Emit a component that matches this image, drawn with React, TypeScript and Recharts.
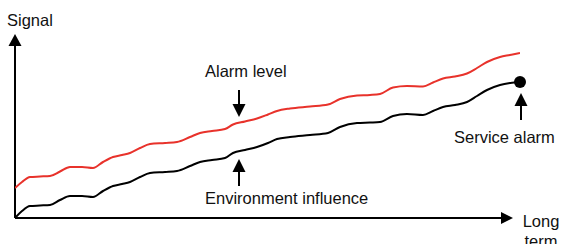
import React from "react";
import { LineChart, Line, XAxis, YAxis, ReferenceLine, ReferenceDot } from "recharts";

const xs = [0, 7, 15, 25, 35, 45, 55, 67, 78, 88, 98, 107, 115, 125, 135, 150, 162, 175, 185, 197, 210, 218, 230, 242, 253, 262, 275, 295, 313, 325, 342, 355, 365, 378, 392, 408, 418, 428, 440, 452, 462, 472, 485, 495, 505];
const environmentValues = [0, 7, 12, 12.5, 13, 18, 22, 22, 21, 27, 32, 34, 36, 41, 45, 46, 47, 52, 56, 58, 60, 65, 68, 71, 75, 79, 81, 83, 85, 91, 95, 95.5, 96, 102, 104, 103, 107, 111, 113, 116, 122, 128, 133, 135, 136];
const alarmValues = [30, 36, 41, 41.5, 42, 46.5, 51, 51, 50, 56, 61, 63, 65, 70, 74, 75, 76, 81, 85, 87, 89, 93.5, 96.5, 99.5, 103.5, 107, 109.5, 111.5, 113.5, 119, 122.5, 123, 124, 130.5, 132, 131.5, 135.5, 139.5, 141.5, 144.5, 150, 156, 161, 163, 165];

const labels = {
  y: "Signal",
  x1: "Long",
  x2: "term",
  alarm: "Alarm level",
  env: "Environment influence",
  service: "Service alarm",
};

const data = xs.map((x, i) => ({ x, env: environmentValues[i], alarm: alarmValues[i] }));

const FONT = "'Liberation Sans', Arial, sans-serif";
const RED = "#e8322b";

const txt = (x: number, y: number, s: string, anchor: "start" | "middle" = "start") => (
  <text x={x} y={y} fontFamily={FONT} fontSize={16.5} fill="#111" textAnchor={anchor}>
    {s}
  </text>
);

const YArrow = (p: any) => (
  <g>
    <polygon points={`${p.cx},${p.cy} ${p.cx - 6.5},${p.cy + 12} ${p.cx + 6.5},${p.cy + 12}`} fill="#000" />
    {txt(p.cx - 8, p.cy - 8, labels.y)}
  </g>
);

const XArrow = (p: any) => (
  <g>
    <polygon points={`${p.cx},${p.cy} ${p.cx - 12},${p.cy - 6} ${p.cx - 12},${p.cy + 6}`} fill="#000" />
    {txt(p.cx + 28, p.cy + 9, labels.x1, "middle")}
    {txt(p.cx + 28, p.cy + 29, labels.x2, "middle")}
  </g>
);

const DownArrow = (p: any) => (
  <g>
    <line x1={p.cx} y1={p.cy - 27} x2={p.cx} y2={p.cy - 10} stroke="#000" strokeWidth={2} />
    <polygon points={`${p.cx},${p.cy} ${p.cx - 6.5},${p.cy - 13} ${p.cx + 6.5},${p.cy - 13}`} fill="#000" />
    {txt(p.cx - 34, p.cy - 40, labels.alarm)}
  </g>
);

const UpArrowEnv = (p: any) => (
  <g>
    <line x1={p.cx} y1={p.cy + 10} x2={p.cx} y2={p.cy + 27} stroke="#000" strokeWidth={2} />
    <polygon points={`${p.cx},${p.cy} ${p.cx - 6.5},${p.cy + 13} ${p.cx + 6.5},${p.cy + 13}`} fill="#000" />
    {txt(p.cx - 34, p.cy + 45, labels.env)}
  </g>
);

const UpArrowService = (p: any) => (
  <g>
    <line x1={p.cx} y1={p.cy + 10} x2={p.cx} y2={p.cy + 27} stroke="#000" strokeWidth={2} />
    <polygon points={`${p.cx},${p.cy} ${p.cx - 6.5},${p.cy + 13} ${p.cx + 6.5},${p.cy + 13}`} fill="#000" />
    {txt(p.cx - 67, p.cy + 50, labels.service)}
  </g>
);

export default function App() {
  return (
    <div style={{ position: "absolute", left: 0, top: 0, width: 563, height: 244, background: "#fff" }}>
      <LineChart width={563} height={244} data={data} margin={{ top: 33, right: 43, bottom: 26, left: 15 }}>
        <XAxis type="number" dataKey="x" domain={[0, 505]} hide allowDataOverflow />
        <YAxis type="number" domain={[0, 185]} hide allowDataOverflow />
        <ReferenceLine segment={[{ x: 0, y: 0 }, { x: 0, y: 175 }]} stroke="#000" strokeWidth={2} ifOverflow="visible" />
        <ReferenceLine segment={[{ x: 0, y: 0 }, { x: 488, y: 0 }]} stroke="#000" strokeWidth={2} ifOverflow="visible" />
        <Line type="monotone" dataKey="alarm" stroke={RED} strokeWidth={2} dot={false} activeDot={false} isAnimationActive={false} />
        <Line type="monotone" dataKey="env" stroke="#000" strokeWidth={2} dot={false} activeDot={false} isAnimationActive={false} />
        <ReferenceDot x={0} y={184} r={0} shape={YArrow} ifOverflow="visible" />
        <ReferenceDot x={498} y={0} r={0} shape={XArrow} ifOverflow="visible" />
        <ReferenceDot x={224} y={101} r={0} shape={DownArrow} ifOverflow="visible" />
        <ReferenceDot x={224} y={59} r={0} shape={UpArrowEnv} ifOverflow="visible" />
        <ReferenceDot x={505} y={136} r={6} fill="#000" stroke="#000" strokeWidth={0} ifOverflow="visible" />
        <ReferenceDot x={506} y={125} r={0} shape={UpArrowService} ifOverflow="visible" />
      </LineChart>
    </div>
  );
}
